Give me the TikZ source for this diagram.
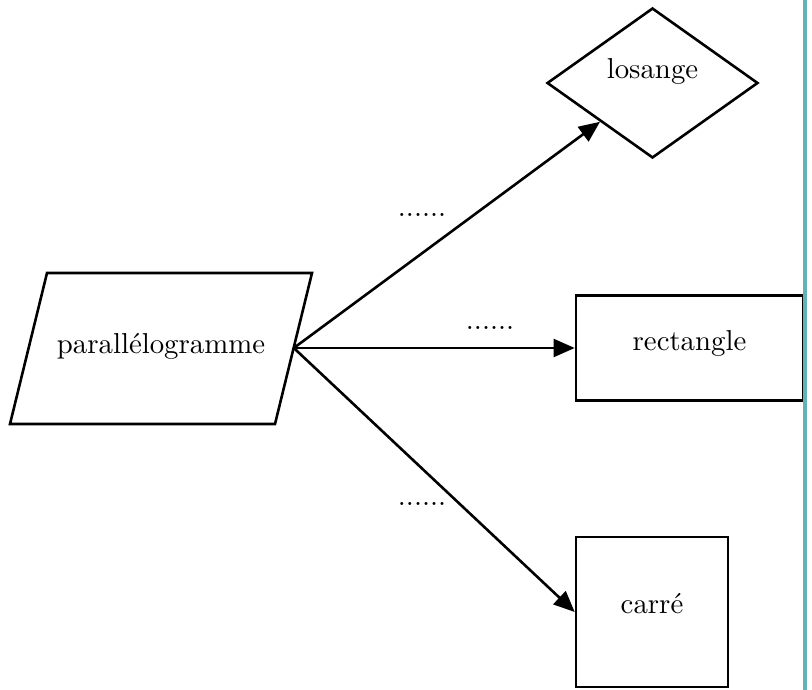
\documentclass[tikz,border=0pt]{standalone}
\usetikzlibrary{shapes.geometric,arrows.meta}
\definecolor{rulecol}{RGB}{98,180,180}
\begin{document}
\begin{tikzpicture}[x=0.3472pt,y=-0.3472pt,
  shapeline/.style={draw=black,line width=0.9pt,inner sep=0pt},
  conn/.style={line width=0.9pt,-{Triangle[length=7.3pt,width=6.2pt]}},
  lbl/.style={anchor=base,inner sep=0pt},
  dots/.style={anchor=base,inner sep=0pt}]
\useasboundingbox (0,0) rectangle (812,690);

% parallelogram (source)
\draw[shapeline] (47,273) -- (312,273) -- (275,424) -- (10,424) -- cycle;
\coordinate (para) at (293.8,348);
\node[lbl] (paraT) at (161,353) {parallélogramme};

% targets
\node[shapeline,diamond,minimum width=211*0.3472pt,minimum height=150*0.3472pt] (los) at (652.5,83) {};
\node[lbl] (losT) at (652.5,79) {losange};

\node[shapeline,rectangle,minimum width=227*0.3472pt,minimum height=105*0.3472pt] (rect) at (689.5,348) {};
\node[lbl] (rectT) at (689.5,350) {rectangle};

\node[shapeline,rectangle,minimum width=152*0.3472pt,minimum height=150*0.3472pt] (sq) at (652,612) {};
\node[lbl] (sqT) at (652,613) {carré};

% connectors
\draw[conn] (para) -- (los);
\draw[conn] (para) -- (rect.west);
\draw[conn] (para) -- (sq.west);

% connector labels
\node[dots] (d1) at (422,217) {......};
\node[dots] (d2) at (490,329) {......};
\node[dots] (d3) at (422,505) {......};

% right margin rule
\draw[rulecol,line width=1.4pt] (805.3,0) -- (805.3,690);
\end{tikzpicture}
\end{document}
